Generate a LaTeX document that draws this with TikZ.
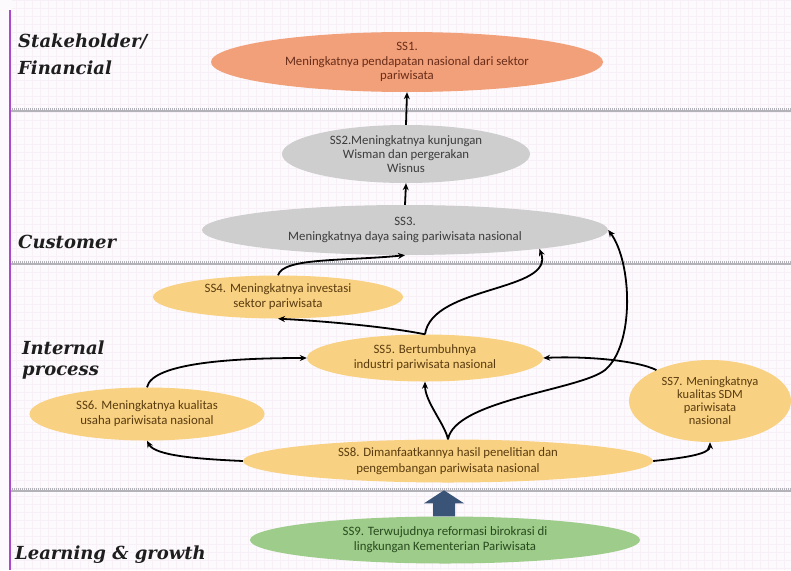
\documentclass[tikz,border=0pt]{standalone}
\usepackage{fontspec}
\setmainfont{Carlito}
\newfontfamily\labelfont{DejaVu Serif}
\usetikzlibrary{arrows.meta,calc,shapes.geometric}
\definecolor{bgc}{RGB}{253,250,253}
\definecolor{gridc}{RGB}{247,240,247}
\definecolor{sepc}{RGB}{178,178,184}
\definecolor{purplec}{RGB}{175,70,205}
\definecolor{salmonc}{RGB}{242,160,122}
\definecolor{salmontxt}{RGB}{105,45,25}
\definecolor{grayc}{RGB}{206,206,206}
\definecolor{graytxt}{RGB}{60,60,60}
\definecolor{yellowc}{RGB}{248,209,130}
\definecolor{yellowtxt}{RGB}{90,60,15}
\definecolor{greenc}{RGB}{158,204,138}
\definecolor{greentxt}{RGB}{40,75,30}
\definecolor{bluec}{RGB}{58,84,120}
\definecolor{labtxt}{RGB}{30,30,30}
\tikzset{
  goal/.style={ellipse, inner sep=0pt, align=center, font=\fontsize{12.8}{15}\selectfont},
  fin/.style={goal, fill=salmonc, text=salmontxt},
  cust/.style={goal, fill=grayc, text=graytxt},
  proc/.style={goal, fill=yellowc, text=yellowtxt},
  learn/.style={goal, fill=greenc, text=greentxt},
  persp/.style={anchor=west, text=labtxt, font=\labelfont\bfseries\itshape\fontsize{18}{22}\selectfont, inner sep=0pt},
  link/.style={line width=1.8pt, black, -{Stealth[length=7pt,width=6pt]}},
  sepline/.style={line width=1.6pt, sepc},
  sepdots/.style={line width=1.4pt, sepc, dash pattern=on 1pt off 1pt}
}
\begin{document}
\begin{tikzpicture}[x=1pt,y=-1pt]
\useasboundingbox (0,0) rectangle (791,570);
\fill[bgc] (0,0) rectangle (791,570);
\draw[gridc, line width=0.25pt, step=8pt] (12,0) grid (791,570);
% perspective separators
\foreach \yy in {110,263,490}{
  \draw[sepline] (10,\yy+1.2) -- (791,\yy+1.2);
  \draw[sepdots] (10,\yy-1.2) -- (791,\yy-1.2);
}
\draw[line width=2pt, purplec] (10,10) -- (10,570);
% perspective labels
\node[persp] (lfin1) at (18,41) {Stakeholder/};
\node[persp] (lfin2) at (18,68) {Financial};
\node[persp] (lcust) at (18,242) {Customer};
\node[persp] (lint1) at (22,348) {Internal};
\node[persp] (lint2) at (22,373) {process};
\node[persp] (llearn) at (15,555) {Learning \& growth};
% goals
\node[fin, minimum width=392pt, minimum height=60pt, font=\fontsize{12.8}{14.5}\selectfont] (ss1) at (407,62)
  {SS1.\\Meningkatnya pendapatan nasional dari sektor\\pariwisata};
\node[cust, minimum width=248pt, minimum height=58pt, font=\fontsize{12.8}{13.8}\selectfont] (ss2) at (406,154)
  {SS2.Meningkatnya kunjungan\\Wisman dan pergerakan\\Wisnus};
\node[cust, minimum width=406pt, minimum height=50pt] (ss3) at (405,230)
  {SS3.\\Meningkatnya daya saing pariwisata nasional};
\node[proc, minimum width=250pt, minimum height=43pt] (ss4) at (278,297)
  {SS4. Meningkatnya investasi\\sektor pariwisata};
\node[proc, minimum width=236pt, minimum height=47pt] (ss5) at (425,358)
  {SS5. Bertumbuhnya\\industri pariwisata nasional};
\node[proc, minimum width=235pt, minimum height=53pt] (ss6) at (147,414)
  {SS6. Meningkatnya kualitas\\usaha pariwisata nasional};
\node[proc, minimum width=162pt, minimum height=82pt, font=\fontsize{12.5}{13}\selectfont] (ss7) at (710,401)
  {SS7. Meningkatnya\\kualitas SDM\\pariwisata\\nasional};
\node[proc, minimum width=410pt, minimum height=43pt, font=\fontsize{12.8}{16}\selectfont] (ss8) at (448,461)
  {SS8. Dimanfaatkannya hasil penelitian dan\\pengembangan pariwisata nasional};
\node[learn, minimum width=390pt, minimum height=47pt] (ss9) at (445,540)
  {SS9. Terwujudnya reformasi birokrasi di\\lingkungan Kementerian Pariwisata};
% block arrow SS9 -> SS8
\fill[bluec] ($(ss9.north)+(-1,-26)$) -- ($(ss9.north)+(19,-13)$) -- ($(ss9.north)+(10,-13)$)
  -- ($(ss9.north)+(10,0)$) -- ($(ss9.north)+(-12,0)$) -- ($(ss9.north)+(-12,-13)$)
  -- ($(ss9.north)+(-21,-13)$) -- cycle;
% connectors
\draw[link] (ss2.north) -- (ss1.south);
\draw[link] (ss3.north) -- (ss2.south);
\draw[link] (ss4.north) .. controls +(5,-18) and +(-60,6) .. (ss3.south);
\draw[link] (ss5.north) .. controls +(-40,-8) and +(40,2) .. (ss4.south);
\draw[link] (ss5.north) .. controls (432,285) and (556,292) .. (ss3.-8);
\draw[link] (ss6.north) .. controls +(5,-25) and +(-70,0) .. (ss5.west);
\draw[link] (ss7.150) .. controls +(-20,-10) and +(40,-2) .. (ss5.east);
\draw[link] (ss8.north) .. controls +(-3,-15) and +(0,20) .. (ss5.south);
\draw[link] (ss8.north) .. controls (455,400) and (580,390) .. (605,370)
  .. controls (635,345) and (632,262) .. (ss3.east);
\draw[link] (ss8.west) .. controls +(-45,-2) and +(8,15) .. (ss6.south);
\draw[link] (ss8.east) .. controls +(30,-3) and +(0,12) .. (ss7.south);
\end{tikzpicture}
\end{document}
